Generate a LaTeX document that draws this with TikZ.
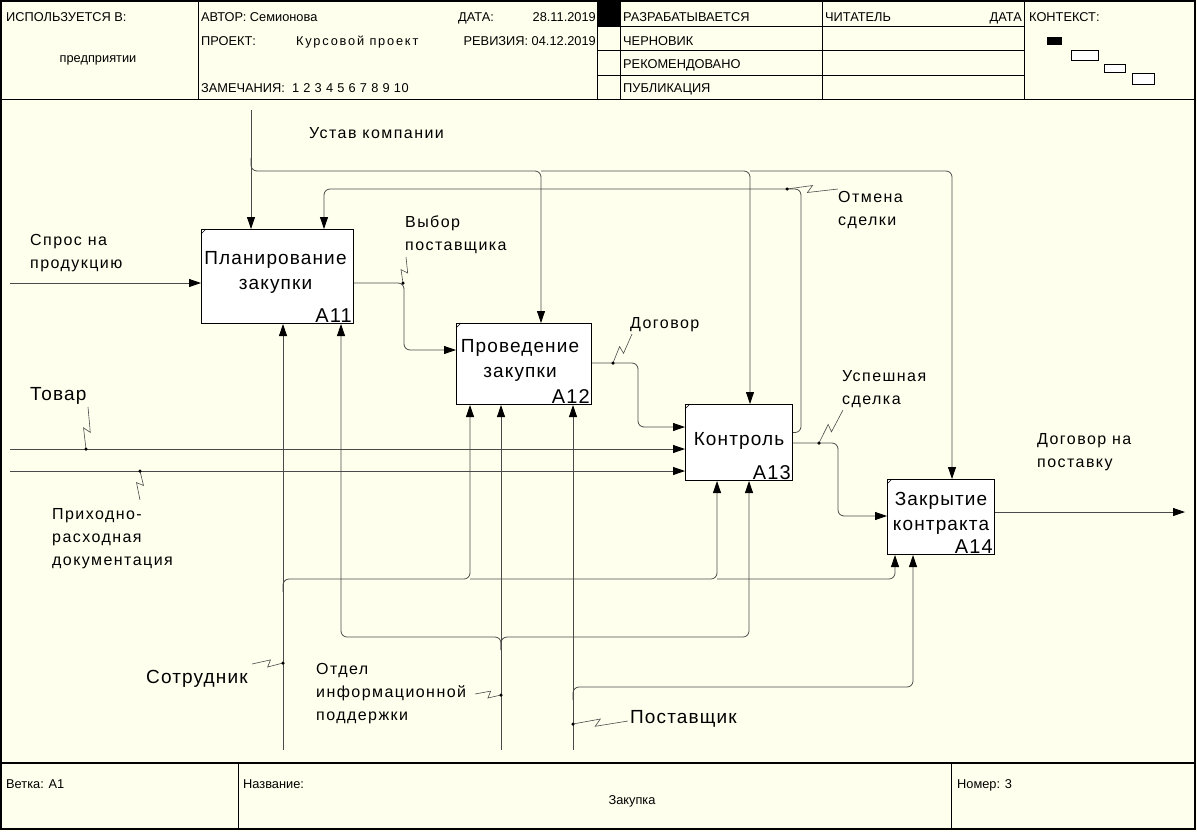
\documentclass[tikz,border=0pt]{standalone}
\usepackage{fontspec}
\setmainfont{Liberation Sans}
\newfontfamily\wirefont[LetterSpace=9]{Liberation Sans}
\newfontfamily\actfont[LetterSpace=6]{Liberation Sans}
\newfontfamily\widefont[LetterSpace=14]{Liberation Sans}
\newfontfamily\digitfont[LetterSpace=5]{Liberation Sans}
\usetikzlibrary{arrows.meta,calc}

\definecolor{paper}{HTML}{FFFFEE}
\definecolor{wire}{HTML}{4A4A4A}

\tikzset{
  x=1pt, y=-1pt,
  frameline/.style={draw=black, line width=1.2pt},
  gridline/.style={draw=black, line width=0.8pt},
  wireline/.style={draw=wire, line width=0.8pt, rounded corners=6pt},
  flow/.style={wireline, -{Triangle[length=12pt,width=8pt,color=black]}},
  actbox/.style={draw=black, fill=white, line width=1pt, anchor=north west, inner sep=0pt},
  acttext/.style={font=\actfont\fontsize{19}{25}\selectfont, align=center, inner sep=0pt},
  actnum/.style={font=\actfont\fontsize{20}{22}\selectfont, anchor=base east, inner sep=0pt},
  lbl/.style={font=\wirefont\fontsize{16}{23}\selectfont, align=left, anchor=west, inner sep=0pt},
  biglbl/.style={font=\actfont\fontsize{19}{23}\selectfont, anchor=west, inner sep=0pt},
  hdr/.style={font=\fontsize{12.8}{14}\selectfont, anchor=base west, inner sep=0pt},
  squig/.style={draw=wire, line width=0.6pt},
  joint/.style={circle, fill=black, inner sep=0pt, minimum size=3.5pt},
}

% zig-zag leader from a joint on a wire to its label
\newcommand\zigleader[2]{%
  \draw[squig] (#1) -- ($(#1)!0.5!(#2)!3.5pt!90:(#2)$)
    -- ($(#1)!0.4!(#2)!3.5pt!-90:(#2)$) -- (#2);
  \node[joint] at (#1) {};}

\begin{document}
\begin{tikzpicture}
\fill[paper] (0,0) rectangle (1197,831);
\useasboundingbox (0,0) rectangle (1197,831);

% ---------- frame, header and footer ----------
\draw[frameline] (1,1) rectangle (1195,829);
\draw[frameline] (1,99.5) -- (1195,99.5);
\draw[frameline] (1,763) -- (1195,763);
\draw[gridline] (198,1) -- (198,99.5);
\draw[gridline] (597,1) -- (597,99.5);
\draw[gridline] (620,1) -- (620,99.5);
\draw[gridline] (822,1) -- (822,99.5);
\draw[gridline] (1024,1) -- (1024,99.5);
\draw[gridline] (597,26) -- (1024,26);
\draw[gridline] (597,50) -- (1024,50);
\draw[gridline] (597,75) -- (1024,75);
\fill[black] (597,1) rectangle (620,26);
\draw[gridline] (238,763) -- (238,829);
\draw[gridline] (951,763) -- (951,829);

\node[hdr] (usedin) at (6,21) {ИСПОЛЬЗУЕТСЯ В:};
\node[hdr, anchor=base] (usedat) at (98,62) {предприятии};
\node[hdr] (author) at (201,21) {АВТОР: Семионова};
\node[hdr] (project) at (201,45) {ПРОЕКТ:};
\node[hdr, font=\widefont\fontsize{12.8}{14}\selectfont] (projname) at (296,45) {Курсовой проект};
\node[hdr] (notes) at (201,92) {ЗАМЕЧАНИЯ:\ \ {\digitfont 1 2 3 4 5 6 7 8 9 10}};
\node[hdr] (datekey) at (458,21) {ДАТА:};
\node[hdr, anchor=base east] (dateval) at (596,21) {28.11.2019};
\node[hdr, anchor=base east] (rev) at (596,45) {РЕВИЗИЯ: 04.12.2019};
\node[hdr] (st1) at (623,21) {РАЗРАБАТЫВАЕТСЯ};
\node[hdr] (st2) at (623,45) {ЧЕРНОВИК};
\node[hdr] (st3) at (623,68) {РЕКОМЕНДОВАНО};
\node[hdr] (st4) at (623,92) {ПУБЛИКАЦИЯ};
\node[hdr] (reader) at (825,21) {ЧИТАТЕЛЬ};
\node[hdr, anchor=base east] (rdate) at (1022,21) {ДАТА};
\node[hdr] (context) at (1029,21) {КОНТЕКСТ:};

% context thumbnail
\fill[black] (1047,37) rectangle (1062,45);
\draw[black, line width=0.8pt, fill=white] (1071,50) rectangle (1098,60);
\draw[black, line width=0.8pt, fill=white] (1104,64) rectangle (1125,72);
\draw[black, line width=0.8pt, fill=white] (1132,73) rectangle (1154,84);

\node[hdr] (branch) at (6,788) {Ветка: A1};
\node[hdr] (titlekey) at (243,788) {Название:};
\node[hdr, anchor=base] (title) at (632,804) {Закупка};
\node[hdr] (number) at (957,788) {Номер: 3};

% ---------- activity boxes ----------
\node[actbox, minimum width=152pt, minimum height=94pt] (a11) at (201,229) {};
\node[actbox, minimum width=135pt, minimum height=81pt] (a12) at (456,323) {};
\node[actbox, minimum width=107pt, minimum height=76pt] (a13) at (685,404) {};
\node[actbox, minimum width=107pt, minimum height=75pt] (a14) at (887,479) {};

\foreach \b in {a11,a12,a13,a14}
  \draw[black, line width=0.6pt] ([yshift=-5pt]\b.north west) -- ([xshift=5pt]\b.north west);

\node[acttext] (a11t) at ([xshift=-2pt,yshift=4pt]a11.center) {Планирование\\закупки};
\node[acttext] (a12t) at ([xshift=-4pt,yshift=4pt]a12.center) {Проведение\\закупки};
\node[acttext] (a13t) at ([yshift=2pt]a13.center) {Контроль};
\node[acttext] (a14t) at ([yshift=4pt]a14.center) {Закрытие\\контракта};
\node[actnum] (a11n) at ([xshift=-2pt,yshift=2pt]a11.south east) {A11};
\node[actnum] (a12n) at ([xshift=-2pt,yshift=2pt]a12.south east) {A12};
\node[actnum] (a13n) at ([xshift=-2pt,yshift=2pt]a13.south east) {A13};
\node[actnum] (a14n) at ([xshift=-2pt,yshift=2pt]a14.south east) {A14};

% ---------- wire waypoints ----------
\coordinate (ctlTop) at (251,110);
\coordinate (ctlFork) at (251,171);
\coordinate (ctlStub) at (251,158);
\coordinate (ctl12) at (541,171);
\coordinate (ctl13) at (750,171);
\coordinate (ctl14) at (952,171);
\coordinate (cnlR) at (801,189);
\coordinate (cnlL) at (324,189);
\coordinate (demIn) at (10,283);
\coordinate (selJ) at (404,283);
\coordinate (selB) at (404,350);
\coordinate (conJ) at (613,363);
\coordinate (conC) at (638,363);
\coordinate (conB) at (638,427);
\coordinate (goodsIn) at (10,449);
\coordinate (docsIn) at (10,471);
\coordinate (okJ) at (819,443);
\coordinate (okC) at (838,443);
\coordinate (okB) at (838,516);
\coordinate (supOut) at (1185,512);
\coordinate (empBot) at (283,750);
\coordinate (empStub) at (283,592);
\coordinate (empFork) at (283,579);
\coordinate (emp12) at (470,579);
\coordinate (emp13) at (717,579);
\coordinate (emp14) at (895,579);
\coordinate (itBot) at (501,750);
\coordinate (itStub) at (501,650);
\coordinate (itFork) at (501,637);
\coordinate (it11) at (341,637);
\coordinate (it13) at (749,637);
\coordinate (vndBot) at (573,750);
\coordinate (vndStub) at (573,700);
\coordinate (vndFork) at (573,687);
\coordinate (vnd14) at (913,687);

% ---------- controls ----------
\draw[flow] (ctlTop) -- (ctlTop |- a11.north);
\draw[flow] (ctlStub) -- (ctlFork) -- (ctl12) -- (ctl12 |- a12.north);
\draw[flow] (ctl12) -- (ctl13) -- (ctl13 |- a13.north);
\draw[flow] (ctl13) -- (ctl14) -- (ctl14 |- a14.north);
\draw[flow] ([yshift=10pt]a13.east) -| (cnlR) -- (cnlL) -- (cnlL |- a11.north);

% ---------- inputs and outputs ----------
\draw[flow] (demIn) -- (demIn -| a11.west);
\draw[flow] (selJ -| a11.east) -- (selJ) -- (selB) -- (selB -| a12.west);
\draw[flow] (conJ -| a12.east) -- (conC) -- (conB) -- (conB -| a13.west);
\draw[flow] (goodsIn) -- (goodsIn -| a13.west);
\draw[flow] (docsIn) -- (docsIn -| a13.west);
\draw[flow] (okJ -| a13.east) -- (okC) -- (okB) -- (okB -| a14.west);
\draw[flow] (supOut -| a14.east) -- (supOut);

% ---------- mechanisms ----------
\draw[flow] (empBot) -- (empBot |- a11.south);
\draw[flow] (empStub) -- (empFork) -- (emp12) -- (emp12 |- a12.south);
\draw[flow] (emp12) -- (emp13) -- (emp13 |- a13.south);
\draw[flow] (emp13) -- (emp14) -- (emp14 |- a14.south);
\draw[flow] (itBot) -- (itBot |- a12.south);
\draw[flow] (itStub) -- (itFork) -- (it11) -- (it11 |- a11.south);
\draw[flow] (itStub) -- (itFork) -- (it13) -- (it13 |- a13.south);
\draw[flow] (vndBot) -- (vndBot |- a12.south);
\draw[flow] (vndStub) -- (vndFork) -- (vnd14) -- (vnd14 |- a14.south);

% ---------- labels with leaders ----------
\node[lbl] (lCharter) at (309,133) {Устав компании};
\node[lbl] (lDemand) at (30,253) {Спрос на\\продукцию};
\node[lbl] (lSelect) at (405,235) {Выбор\\поставщика};
\node[lbl] (lContract) at (630,325) {Договор};
\node[lbl] (lCancel) at (838,210) {Отмена\\сделки};
\node[lbl] (lSuccess) at (842,389) {Успешная\\сделка};
\node[lbl] (lSupply) at (1037,452) {Договор на\\поставку};
\node[biglbl] (lGoods) at (30,396) {Товар};
\node[lbl] (lDocs) at (52,539) {Приходно-\\расходная\\документация};
\node[biglbl] (lEmp) at (146,679) {Сотрудник};
\node[lbl] (lIT) at (316,694) {Отдел\\информационной\\поддержки};
\node[biglbl] (lVendor) at (630,719) {Поставщик};

\coordinate (jSel) at (403,283);   \coordinate (eSel) at (406,257);
\coordinate (jCon) at (613,363);   \coordinate (eCon) at (632,334);
\coordinate (jCnl) at (787,189);   \coordinate (eCnl) at (838,189);
\coordinate (jOk) at (819,443);    \coordinate (eOk) at (843,410);
\coordinate (jGoods) at (86,449);  \coordinate (eGoods) at (88,407);
\coordinate (jDocs) at (140,471);  \coordinate (eDocs) at (140,500);
\coordinate (jEmp) at (283,663);   \coordinate (eEmp) at (252,664);
\coordinate (jIT) at (501,695);    \coordinate (eIT) at (475,694);
\coordinate (jVnd) at (573,724);   \coordinate (eVnd) at (628,721);

\zigleader{jSel}{eSel}
\zigleader{jCon}{eCon}
\zigleader{jCnl}{eCnl}
\zigleader{jOk}{eOk}
\zigleader{jGoods}{eGoods}
\zigleader{jDocs}{eDocs}
\zigleader{jEmp}{eEmp}
\zigleader{jIT}{eIT}
\zigleader{jVnd}{eVnd}
\end{tikzpicture}
\end{document}
